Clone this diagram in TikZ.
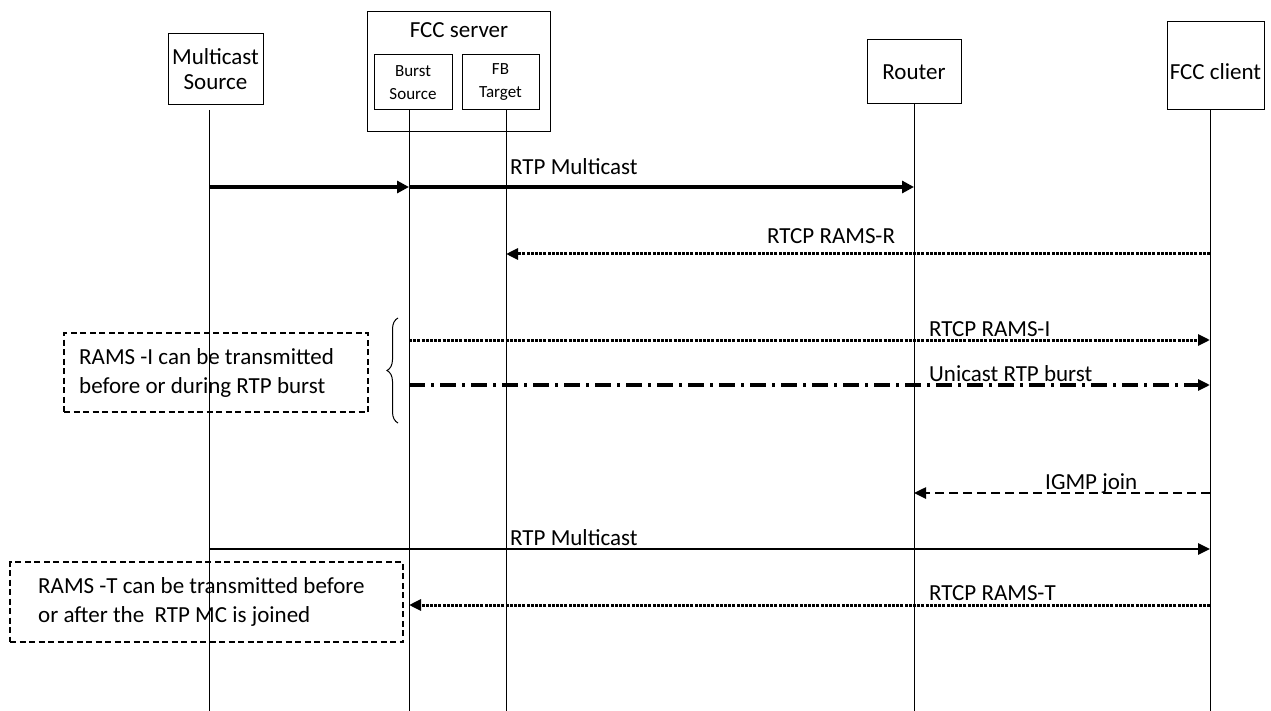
\documentclass[tikz,border=0pt]{standalone}
\usepackage{fontspec}
\setmainfont{Carlito}
\usetikzlibrary{arrows.meta,decorations.pathreplacing}
\begin{document}
\begin{tikzpicture}[x=1pt,y=-1pt,
  big/.style={font=\fontsize{23}{25}\selectfont},
  small/.style={font=\fontsize{17}{23}\selectfont},
  actor/.style={draw, line width=1pt, inner sep=0pt, align=center},
  life/.style={line width=1pt},
  tip/.style={-{Triangle[length=12pt,width=11pt]}},
  lbl/.style={big, anchor=base west, inner sep=0pt},
  notebox/.style={draw, line width=2.5pt, dash pattern=on 6pt off 3.5pt, inner sep=0pt},
  notetxt/.style={font=\fontsize{23}{29}\selectfont, anchor=west, align=left, inner sep=0pt},
  dotline/.style={line width=3pt, dash pattern=on 3pt off 1.2pt},
  dashdotline/.style={line width=3.5pt, dash pattern=on 16pt off 6pt on 3pt off 6pt},
  dashline/.style={line width=2.5pt, dash pattern=on 9pt off 5pt},
]
\useasboundingbox (0,0) rectangle (1271,711);

% actor boxes
\node[actor, big, minimum width=95pt, minimum height=71pt] (ms) at (215.5,69.5) {Multicast\\Source};
\node[actor, minimum width=183pt, minimum height=120pt] (fcc) at (458.5,72) {};
\node[big, inner sep=0pt, anchor=base] (fcctitle) at (459,38) {FCC server};
\node[actor, small, minimum width=78pt, minimum height=55pt] (bs) at (413,82.5) {Burst\\Source};
\node[actor, small, minimum width=77pt, minimum height=55pt] (fb) at (500.5,82.5) {FB\\Target};
\node[actor, big, minimum width=94pt, minimum height=64pt] (rt) at (914,72) {Router};
\node[actor, minimum width=97pt, minimum height=88pt] (cl) at (1215.5,66) {};
\node[big, inner sep=0pt] (cltitle) at (1215.5,72) {FCC client};

% lifeline coordinates
\coordinate (msT) at (209,110);  \coordinate (msB) at (209,711);
\coordinate (bsT) at (409,110);  \coordinate (bsB) at (409,711);
\coordinate (fbT) at (506,110);  \coordinate (fbB) at (506,711);
\coordinate (rtT) at (914,104);  \coordinate (rtB) at (914,711);
\coordinate (clT) at (1210,110); \coordinate (clB) at (1210,711);
\draw[life] (msT) -- (msB);
\draw[life] (bsT) -- (bsB);
\draw[life] (fbT) -- (fbB);
\draw[life] (rtT) -- (rtB);
\draw[life] (clT) -- (clB);

% message points
\coordinate (ms1) at (209,187); \coordinate (bs1) at (409,187); \coordinate (rt1) at (914,187);
\coordinate (cl2) at (1210,254); \coordinate (fb2) at (506,254);
\coordinate (bs3) at (409,340); \coordinate (cl3) at (1210,340);
\coordinate (bs4) at (409,385); \coordinate (cl4) at (1210,385);
\coordinate (cl5) at (1210,493); \coordinate (rt5) at (914,493);
\coordinate (ms6) at (209,549); \coordinate (cl6) at (1210,549);
\coordinate (cl7) at (1210,605); \coordinate (bs7) at (409,605);

% messages
\draw[line width=4pt, -{Triangle[length=12pt,width=12pt]}] (ms1) -- (bs1);
\draw[line width=4pt, -{Triangle[length=12pt,width=12pt]}] (bs1) -- (rt1);
\node[lbl] (l1) at (510,175) {RTP Multicast};

\draw[dotline, tip] (cl2) -- (fb2);
\node[lbl] (l2) at (767,244) {RTCP RAMS-R};

\draw[dotline, tip] (bs3) -- (cl3);
\node[lbl] (l3) at (929,336) {RTCP RAMS-I};

\draw[dashdotline, tip] (bs4) -- (cl4);
\node[lbl] (l4) at (929,381) {Unicast RTP burst};

\draw[dashline, tip] (cl5) -- (rt5);
\node[lbl] (l5) at (1045,489) {IGMP join};

\draw[line width=2.5pt, tip] (ms6) -- (cl6);
\node[lbl] (l6) at (510,545) {RTP Multicast};

\draw[dotline, tip] (cl7) -- (bs7);
\node[lbl] (l7) at (929,600) {RTCP RAMS-T};

% brace
\coordinate (brB) at (398,423); \coordinate (brT) at (398,318);
\draw[line width=1pt, decorate, decoration={brace, amplitude=11pt}] (brB) -- (brT);

% notes
\node[notebox, minimum width=304pt, minimum height=79pt] (n1) at (216,372.5) {};
\node[notetxt] (n1t) at (79,372.5) {RAMS -I can be transmitted\\before or during RTP burst};
\node[notebox, minimum width=393pt, minimum height=80pt] (n2) at (206.5,602) {};
\node[notetxt] (n2t) at (38,602) {RAMS -T can be transmitted before\\or after the\ \ RTP MC is joined};
\end{tikzpicture}
\end{document}
